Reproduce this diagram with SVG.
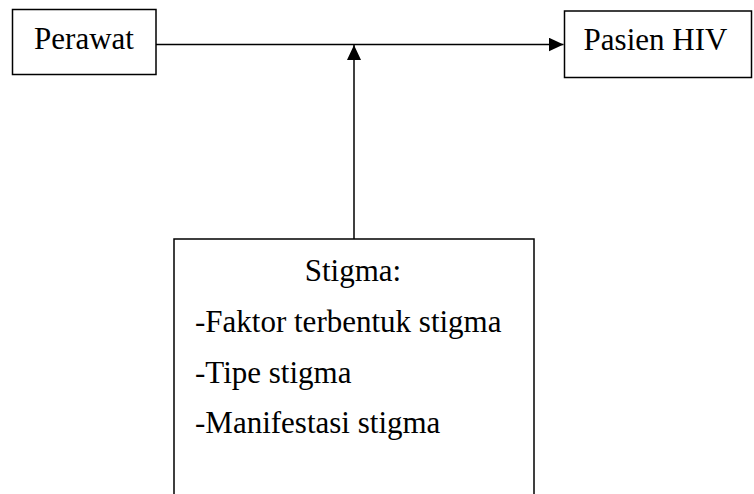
<svg xmlns="http://www.w3.org/2000/svg" width="754" height="494" viewBox="0 0 754 494">
<style>
.box{fill:#fff;stroke:#000;stroke-width:1.5}
.ln{stroke:#000;stroke-width:1.5;fill:none}
</style>
<defs>
<marker id="ah" markerUnits="userSpaceOnUse" markerWidth="16" markerHeight="14" refX="15" refY="7" orient="auto">
<path d="M0,0 L15,7 L0,14 Z" fill="#000"/>
</marker>
</defs>
<rect width="754" height="494" fill="#fff"/>
<g id="connectors">
<line class="ln" x1="156" y1="44.5" x2="563.5" y2="44.5" marker-end="url(#ah)"/>
<line class="ln" x1="354" y1="239" x2="354" y2="45" marker-end="url(#ah)"/>
</g>
<g font-family="'Liberation Serif', 'Times New Roman', 'DejaVu Serif', serif" font-size="31" fill="#000">
<g id="perawat">
<rect class="box" x="12.5" y="9.5" width="143.5" height="65"/>
<text x="84" y="49" text-anchor="middle">Perawat</text>
</g>
<g id="pasien">
<rect class="box" x="564.5" y="11" width="187" height="66.5"/>
<text x="655.5" y="50" text-anchor="middle">Pasien HIV</text>
</g>
<g id="stigma">
<rect class="box" x="174" y="239" width="360" height="270"/>
<text x="353" y="280.5" text-anchor="middle">Stigma:</text>
<text x="195" y="331.5">-Faktor terbentuk stigma</text>
<text x="195" y="383">-Tipe stigma</text>
<text x="195" y="433">-Manifestasi stigma</text>
</g>
</g>
</svg>
